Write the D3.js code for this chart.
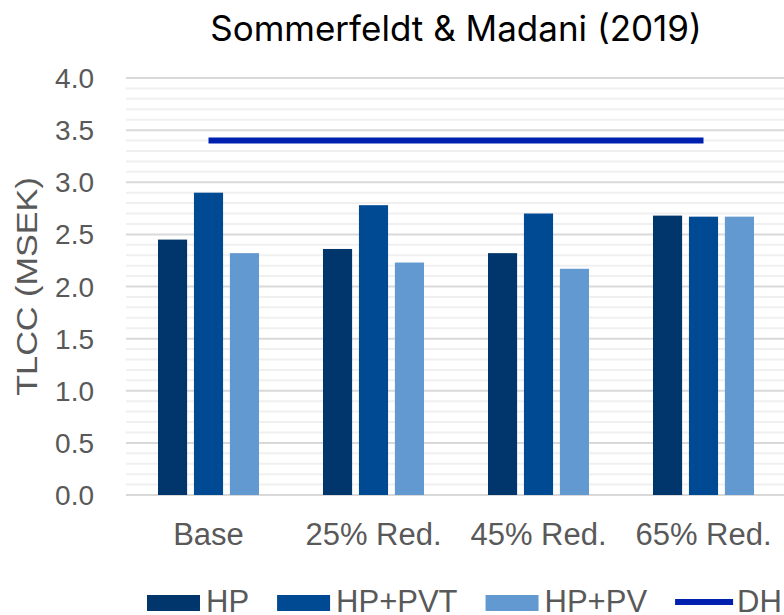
<!DOCTYPE html>
<html>
<head>
<meta charset="utf-8">
<script src="https://cdn.jsdelivr.net/npm/d3@7"></script>
<style>
  body { margin: 0; background: #fff; }
  svg { display: block; }
</style>
</head>
<body>
<svg id="chart" width="784" height="615"></svg>
<script>
var categories = ["Base", "25% Red.", "45% Red.", "65% Red."];
var seriesNames = ["HP", "HP+PVT", "HP+PV"];
var hpValues = [2.45, 2.36, 2.32, 2.68];
var hpPvtValues = [2.90, 2.78, 2.70, 2.67];
var hpPvValues = [2.32, 2.23, 2.17, 2.67];
var dhValues = [3.40, 3.40, 3.40, 3.40];
var yTicks = [0, 0.5, 1, 1.5, 2, 2.5, 3, 3.5, 4];

var colors = { "HP": "#00366c", "HP+PVT": "#004a94", "HP+PV": "#6399d1", "DH": "#0020b0" };

var svg = d3.select("#chart"),
    margin = { top: 78, right: -2, bottom: 120, left: 126 },
    width = +svg.attr("width") - margin.left - margin.right,
    height = +svg.attr("height") - margin.top - margin.bottom,
    g = svg.append("g").attr("transform", "translate(" + margin.left + "," + margin.top + ")");

var x = d3.scaleBand().domain(categories).range([0, width]);
var x1 = d3.scaleBand().domain(seriesNames).range([0, x.bandwidth()])
    .paddingInner(0.19).paddingOuter(0.89);
var y = d3.scaleLinear().domain([0, 4]).range([height, 0]);

// minor gridlines every 0.1
g.append("g").selectAll("line")
    .data(d3.range(1, 40).filter(function (d) { return d % 5 !== 0; }).map(function (d) { return d / 10; }))
    .enter().append("line")
    .attr("x1", 0).attr("x2", width)
    .attr("y1", function (d) { return y(d); })
    .attr("y2", function (d) { return y(d); })
    .attr("stroke", "#f0f0f0").attr("stroke-width", 2);

// major gridlines
g.append("g").selectAll("line")
    .data(yTicks)
    .enter().append("line")
    .attr("x1", 0).attr("x2", width)
    .attr("y1", function (d) { return y(d); })
    .attr("y2", function (d) { return y(d); })
    .attr("stroke", "#d9d9d9").attr("stroke-width", 2);

// y tick labels
g.append("g").selectAll("text")
    .data(yTicks)
    .enter().append("text")
    .attr("x", -32)
    .attr("y", function (d) { return y(d); })
    .attr("text-anchor", "end")
    .attr("dy", "0.36em")
    .style("font-family", "'Liberation Sans', Arial, sans-serif")
    .style("font-size", "28px")
    .attr("fill", "#595959")
    .text(function (d) { return d.toFixed(1); });

// y axis title
svg.append("text")
    .attr("transform", "translate(37," + (margin.top + height / 2) + ") rotate(-90) scale(1.18,1)")
    .attr("text-anchor", "middle")
    .style("font-family", "'Liberation Sans', Arial, sans-serif")
    .style("font-size", "29px")
    .attr("fill", "#595959")
    .text("TLCC (MSEK)");

// bars
var data = categories.map(function (c, i) {
    return { cat: c, vals: [
        { key: "HP", v: hpValues[i] },
        { key: "HP+PVT", v: hpPvtValues[i] },
        { key: "HP+PV", v: hpPvValues[i] }
    ] };
});

g.selectAll(".grp")
    .data(data)
    .enter().append("g")
    .attr("class", "grp")
    .attr("transform", function (d) { return "translate(" + x(d.cat) + ",0)"; })
    .selectAll("rect")
    .data(function (d) { return d.vals; })
    .enter().append("rect")
    .attr("x", function (d) { return x1(d.key); })
    .attr("width", x1.bandwidth())
    .attr("y", function (d) { return y(d.v); })
    .attr("height", function (d) { return height - y(d.v); })
    .attr("fill", function (d) { return colors[d.key]; });

// DH line
var line = d3.line()
    .x(function (d, i) { return x(categories[i]) + x.bandwidth() / 2; })
    .y(function (d) { return y(d); });
g.append("path")
    .datum(dhValues)
    .attr("d", line)
    .attr("fill", "none")
    .attr("stroke", colors.DH)
    .attr("stroke-width", 6);

// x labels
g.append("g").selectAll("text")
    .data(categories)
    .enter().append("text")
    .attr("x", function (d) { return x(d) + x.bandwidth() / 2; })
    .attr("y", height + 50)
    .attr("text-anchor", "middle")
    .style("font-family", "'Liberation Sans', Arial, sans-serif")
    .style("font-size", "31px")
    .attr("fill", "#595959")
    .text(function (d) { return d; });

// title
svg.append("text")
    .attr("x", margin.left + width / 2)
    .attr("y", 41)
    .attr("text-anchor", "middle")
    .style("font-family", "Inter, sans-serif")
    .style("font-size", "35px")
    .attr("fill", "#000")
    .text("Sommerfeldt & Madani (2019)");

// legend
var legendItems = ["HP", "HP+PVT", "HP+PV", "DH"];
var lx = 147;
legendItems.forEach(function (k) {
    var isLine = k === "DH";
    if (isLine) {
        svg.append("line")
            .attr("x1", lx).attr("x2", lx + 58)
            .attr("y1", 602).attr("y2", 602)
            .attr("stroke", colors[k]).attr("stroke-width", 6);
    } else {
        svg.append("rect")
            .attr("x", lx).attr("y", 595)
            .attr("width", 53).attr("height", 16)
            .attr("fill", colors[k]);
    }
    var t = svg.append("text")
        .attr("x", lx + (isLine ? 62 : 59))
        .attr("y", 612)
        .style("font-family", "'Liberation Sans', Arial, sans-serif")
        .style("font-size", "31px")
        .attr("fill", "#595959")
        .text(k);
    lx += (isLine ? 62 : 59) + t.node().getComputedTextLength() + 28;
});
</script>
</body>
</html>
